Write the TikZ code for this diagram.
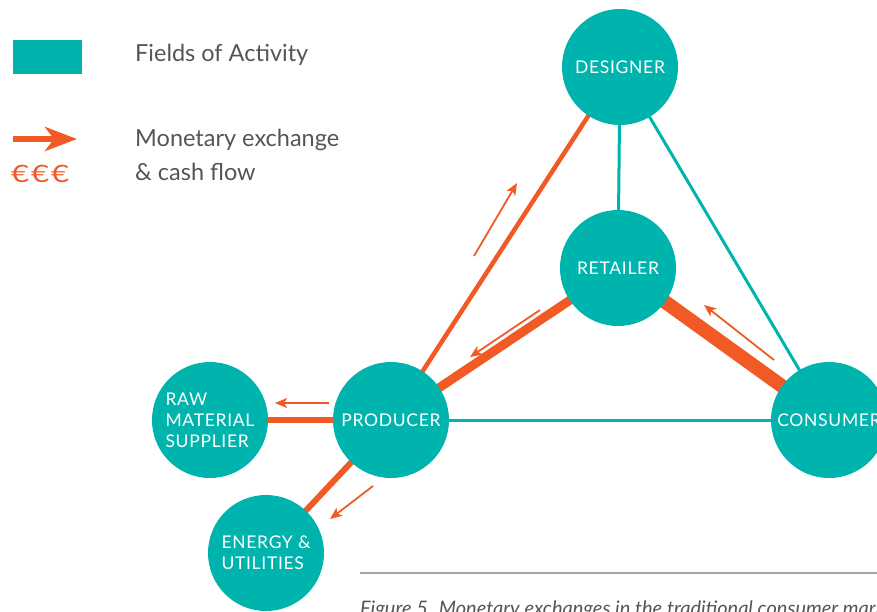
\documentclass[tikz,border=0pt]{standalone}
\usepackage{fontspec}
\setmainfont{Lato}
\usetikzlibrary{arrows.meta}
\pgfdeclarelayer{background}
\pgfsetlayers{background,main}
\definecolor{tealc}{HTML}{00B4AE}
\definecolor{orangec}{HTML}{F15A24}
\definecolor{greyc}{HTML}{555555}
\tikzset{
  field/.style={circle, fill=tealc, minimum size=116pt, inner sep=0pt, text=white,
    font=\fontsize{17.5}{21}\selectfont\addfontfeature{LetterSpace=4}, align=left},
  tealline/.style={draw=tealc, line width=3pt},
  money/.style={draw=orangec},
  flowarrow/.style={draw=orangec, line width=1.8pt, -{Stealth[length=12pt,width=10pt,inset=3pt]}},
  legendtext/.style={text=greyc, font=\fontsize{23.5}{34}\selectfont, anchor=base west, align=left, inner sep=0pt}
}
\begin{document}
\begin{tikzpicture}[x=1pt,y=-1pt]
\useasboundingbox (0,0) rectangle (877,611);
\clip (0,0) rectangle (877,611);

% nodes
\node[field] (des) at (620,67) {DESIGNER};
\node[field] (ret) at (618,268) {RETAILER};
\node[field] (con) at (829,420) {CONSUMER};
\node[field] (pro) at (391,420) {PRODUCER};
\node[field] (raw) at (210,420) {RAW\\MATERIAL\\SUPPLIER};
\node[field] (ene) at (266,553) {ENERGY \&\\UTILITIES};

\begin{pgfonlayer}{background}
\draw[tealline] (des.center) -- (ret.center);
\draw[tealline] (des.center) -- (con.center);
\draw[tealline] (pro.center) -- (con.center);
\draw[money, line width=4.5pt] (pro.center) -- (des.center);
\draw[money, line width=9pt] (pro.center) -- (ret.center);
\draw[money, line width=14pt] (ret.center) -- (con.center);
\draw[money, line width=6pt] (pro.center) -- (raw.center);
\draw[money, line width=6pt] (pro.center) -- (ene.center);
\end{pgfonlayer}

% flow indicators
\draw[flowarrow] (474,256) -- (517,183);
\draw[flowarrow] (540,310) -- (470,357);
\draw[flowarrow] (774,360) -- (704,305);
\draw[flowarrow] (329,403) -- (275,403);
\draw[flowarrow] (373,486) -- (330,519);

% legend
\node[fill=tealc, minimum width=69pt, minimum height=34pt, inner sep=0pt] (lkey) at (47.5,57) {};
\node[legendtext] (ltext) at (135,61) {Fields of Activity};
\coordinate (la) at (13,139);
\coordinate (lb) at (77,139);
\draw[draw=orangec, line width=6pt, -{Stealth[length=32pt,width=24pt,inset=9pt]}] (la) -- (lb);
\node[text=orangec, font=\fontsize{24}{26}\selectfont\addfontfeature{LetterSpace=6}, anchor=base west, inner sep=0pt] (eur) at (11,182) {\scalebox{1.3}[1]{€€€}};
\node[legendtext] (mtext) at (135,180) {Monetary exchange\\\& cash flow};

% caption
\coordinate (c1) at (360,573);
\coordinate (c2) at (877,573);
\draw[draw=black!35, line width=2pt] (c1) -- (c2);
\node[anchor=base west, inner sep=0pt, text=greyc, font=\itshape\fontsize{20}{22}\selectfont] (cap) at (360,615) {Figure 5. Monetary exchanges in the traditional consumer market};
\end{tikzpicture}
\end{document}
